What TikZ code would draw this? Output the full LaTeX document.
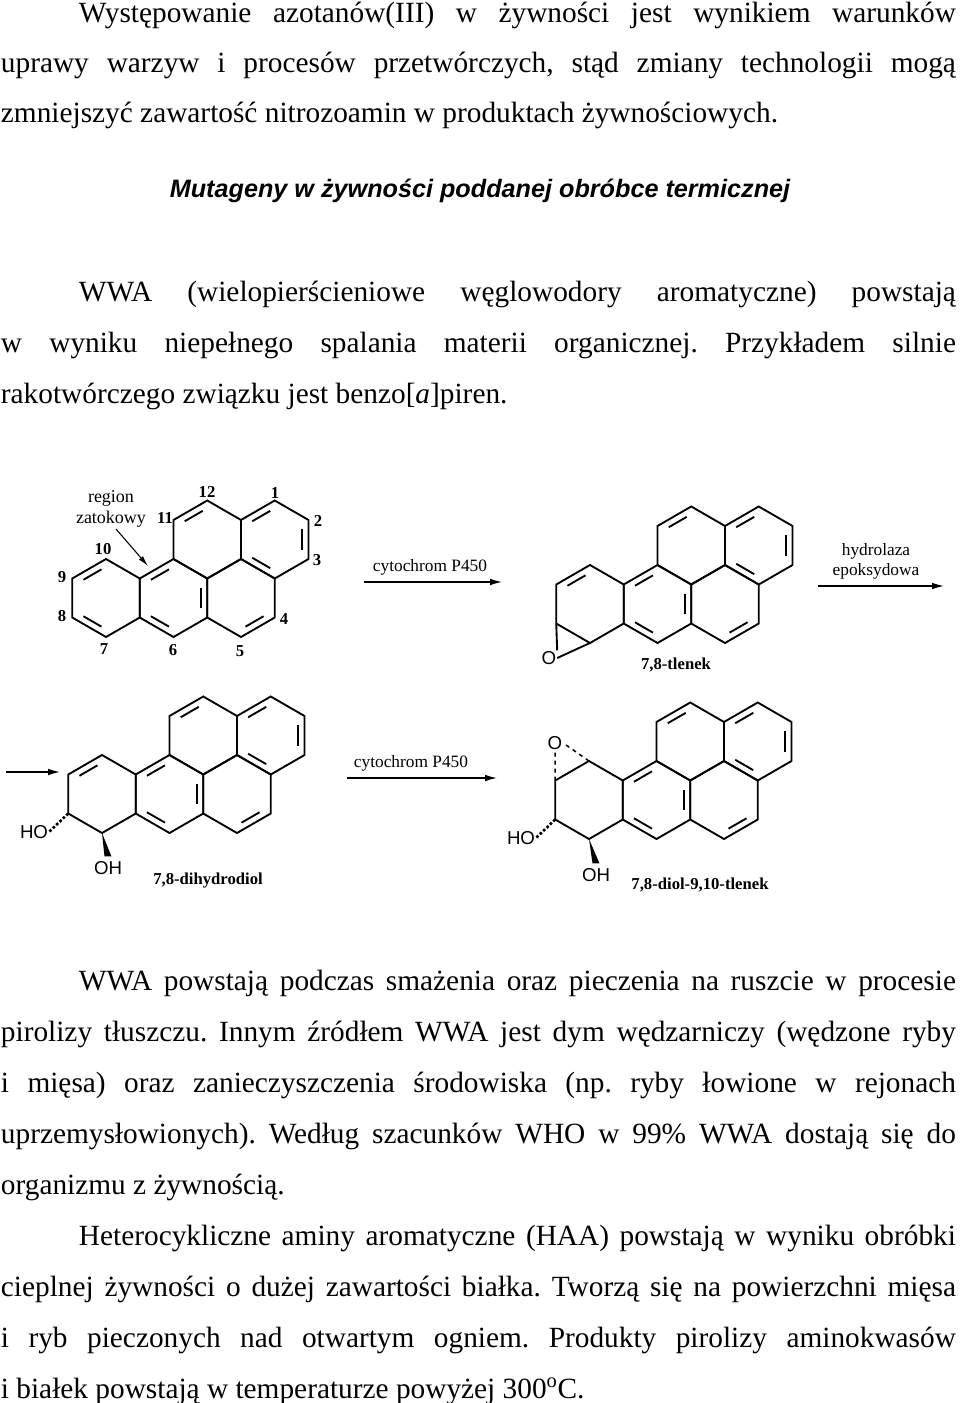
\documentclass[tikz,border=0pt]{standalone}
\usepackage{fontspec}
\setmainfont{Liberation Serif}
\newfontfamily\arialfont{Liberation Sans}
\usetikzlibrary{arrows.meta,calc}
\frenchspacing

% one benzo[a]pyrene skeleton, ring A centre at (#2,#3)
\newcommand\dbl[3]{\draw[shift={(#1)}] (#2+9:29) -- (#3-9:29);}
\newcommand\bapskel[3]{%
  \coordinate (#1A) at (#2,#3);
  \coordinate (#1B) at ($(#1A)+(67.5,0)$);
  \coordinate (#1C) at ($(#1A)+(135,0)$);
  \coordinate (#1D) at ($(#1A)+(101.25,-58.5)$);
  \coordinate (#1E) at ($(#1A)+(168.75,-58.5)$);
  \foreach \r in {A,B,C,D,E}
    \draw[shift={(#1\r)}] (30:39) -- (90:39) -- (150:39) -- (210:39) -- (270:39) -- (330:39) -- cycle;
  \dbl{#1B}{210}{270}\dbl{#1B}{90}{150}\dbl{#1B}{330}{390}
  \dbl{#1D}{210}{270}
  \dbl{#1E}{210}{270}\dbl{#1E}{330}{390}\dbl{#1E}{90}{150}
  \dbl{#1C}{30}{90}}

\tikzset{
  txt/.style={anchor=base west,inner sep=0pt,font=\fontsize{22}{26}\selectfont},
  chem/.style={inner sep=0pt,font=\fontsize{12.5}{14}\selectfont\bfseries},
  atom/.style={inner sep=0pt,font=\arialfont\fontsize{14}{16}\selectfont},
  react/.style={-{Latex[length=9pt,width=5pt]},line width=1pt},
}

\begin{document}
\begin{tikzpicture}[x=0.75pt,y=0.75pt,yscale=-1,line width=1.4pt]
\useasboundingbox (0,0) rectangle (960,1403);

% text above
\node[txt] (l1) at (78,22) {\makebox[657.75pt][s]{Występowanie azotanów(III) w żywności jest wynikiem warunków}};
\node[txt] (l2) at (0,72) {\makebox[716.25pt][s]{uprawy warzyw i procesów przetwórczych, stąd zmiany technologii mogą}};
\node[txt] (l3) at (0,122) {zmniejszyć zawartość nitrozoamin w produktach żywnościowych.};
\node[anchor=base,inner sep=0pt,font=\arialfont\bfseries\itshape\fontsize{18.9}{22}\selectfont] (title) at (480,197) {Mutageny w żywności poddanej obróbce termicznej};
\node[txt] (l4) at (78,301) {\makebox[657.75pt][s]{WWA (wielopierścieniowe węglowodory aromatyczne) powstają}};
\node[txt] (l5) at (0,352) {\makebox[716.25pt][s]{w wyniku niepełnego spalania materii organicznej. Przykładem silnie}};
\node[txt] (l6) at (0,403) {rakotwórczego związku jest benzo[\textit{a}]piren.};

% benzo[a]piren
\bapskel{s}{106}{598}
\dbl{sA}{210}{270}\dbl{sA}{90}{150}
\node[chem] (n12) at (207,492) {12};
\node[chem] (n1) at (275,493) {1};
\node[chem] (n11) at (165,518) {11};
\node[chem] (n2) at (318,521) {2};
\node[chem] (n10) at (103,549) {10};
\node[chem] (n3) at (317,560) {3};
\node[chem] (n9) at (62,577) {9};
\node[chem] (n8) at (62,616) {8};
\node[chem] (n4) at (284,619) {4};
\node[chem] (n7) at (104,649) {7};
\node[chem] (n6) at (173,650) {6};
\node[chem] (n5) at (240,651) {5};
\node[chem,font=\fontsize{13.5}{16}\selectfont,align=center] (region) at (111,509) {region\\zatokowy};
\coordinate (bay) at (148,566);
\draw[-{Latex[length=8pt,width=4pt]},line width=0.8pt] (116,529) -- (bay);

\node[chem,font=\fontsize{13}{15}\selectfont] (cyt1) at (430,567) {cytochrom P450};
\coordinate (c1a) at (364,582);
\coordinate (c1b) at (502,582);
\draw[react] (c1a) -- (c1b);

% 7,8-tlenek
\bapskel{t}{590}{604}
\dbl{tA}{210}{270}
\node[atom] (tO) at (549,658) {O};
\draw ($(tA)+(150:39)$) -- (tO.north east);
\draw ($(tA)+(90:39)$) -- (tO.east);
\node[chem] (tl1) at (676,665) {7,8-tlenek};
\node[chem,align=center,font=\fontsize{13}{15}\selectfont] (hyd) at (876,561) {hydrolaza\\epoksydowa};
\coordinate (h1a) at (818,586);
\coordinate (h1b) at (944,586);
\draw[react] (h1a) -- (h1b);

% 7,8-dihydrodiol
\coordinate (d0) at (6,772);
\coordinate (d1) at (60,772);
\draw[react] (d0) -- (d1);
\bapskel{d}{102}{794}
\dbl{dA}{210}{270}
\node[atom] (dHO) at (34,832) {HO};
\draw[dash pattern=on 2pt off 1.5pt,line width=2pt] ($(dA)+(150:39)$) -- (dHO.east);
\node[atom] (dOH) at (108,868) {OH};
\fill ($(dA)+(90:39)$) -- ($(dOH.north)+(-3.5,-4)$) -- ($(dOH.north)+(3.5,-4)$) -- cycle;
\node[chem] (dl) at (208,881) {7,8-dihydrodiol};
\node[chem,font=\fontsize{13}{15}\selectfont] (cyt2) at (411,763) {cytochrom P450};
\coordinate (c2a) at (347,778);
\coordinate (c2b) at (497,778);
\draw[react] (c2a) -- (c2b);

% 7,8-diol-9,10-tlenek
\bapskel{e}{589}{800}
\node[atom] (eO) at (555,743) {O};
\draw[dashed,line width=1.1pt] ($(eA)+(270:39)$) -- (eO.east);
\draw[dashed,line width=1.1pt] ($(eA)+(210:39)$) -- (eO.south);
\node[atom] (eHO) at (521,838) {HO};
\draw[dash pattern=on 2pt off 1.5pt,line width=2pt] ($(eA)+(150:39)$) -- (eHO.east);
\node[atom] (eOH) at (596,875) {OH};
\fill ($(eA)+(90:39)$) -- ($(eOH.north)+(-3.5,-4)$) -- ($(eOH.north)+(3.5,-4)$) -- cycle;
\node[chem] (el) at (700,885) {7,8-diol-9,10-tlenek};

% text below
\node[txt] (l7) at (78,990) {\makebox[657.75pt][s]{WWA powstają podczas smażenia oraz pieczenia na ruszcie w procesie}};
\node[txt] (l8) at (0,1041) {\makebox[716.25pt][s]{pirolizy tłuszczu. Innym źródłem WWA jest dym wędzarniczy (wędzone ryby}};
\node[txt] (l9) at (0,1092) {\makebox[716.25pt][s]{i mięsa) oraz zanieczyszczenia środowiska (np. ryby łowione w rejonach}};
\node[txt] (l10) at (0,1143) {\makebox[716.25pt][s]{uprzemysłowionych). Według szacunków WHO w 99\% WWA dostają się do}};
\node[txt] (l11) at (0,1194) {organizmu z żywnością.};
\node[txt] (l12) at (78,1245) {\makebox[657.75pt][s]{Heterocykliczne aminy aromatyczne (HAA) powstają w wyniku obróbki}};
\node[txt] (l13) at (0,1296) {\makebox[716.25pt][s]{cieplnej żywności o dużej zawartości białka. Tworzą się na powierzchni mięsa}};
\node[txt] (l14) at (0,1347) {\makebox[716.25pt][s]{i ryb pieczonych nad otwartym ogniem. Produkty pirolizy aminokwasów}};
\node[txt] (l15) at (0,1398) {i białek powstają w temperaturze powyżej 300\textsuperscript{o}C.};
\end{tikzpicture}
\end{document}
